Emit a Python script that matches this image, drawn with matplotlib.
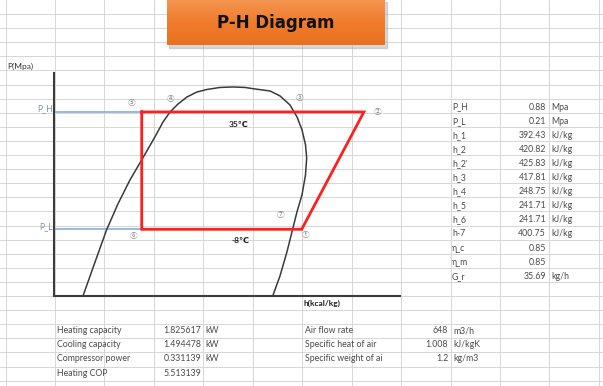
"""
P-H diagram sheet, redrawn with matplotlib
"""
import matplotlib.pyplot as plt
import numpy as np
from matplotlib.patches import Rectangle

plt.rcParams['font.family'] = ['Lato', 'DejaVu Sans', 'Noto Sans CJK SC']

# refrigerant cycle (right-hand table)
param_names = ['P_H', 'P_L', 'h_1', 'h_2', "h_2'", 'h_3', 'h_4', 'h_5', 'h_6', 'h-7', 'η_c', 'η_m', 'G_r']
param_values = ['0.88', '0.21', '392.43', '420.82', '425.83', '417.81', '248.75',
                '241.71', '241.71', '400.75', '0.85', '0.85', '35.69']
param_units = ['Mpa', 'Mpa', 'kJ/kg', 'kJ/kg', 'kJ/kg', 'kJ/kg', 'kJ/kg',
               'kJ/kg', 'kJ/kg', 'kJ/kg', '', '', 'kg/h']

# points as drawn on the chart
p_high = 0.88
p_low = 0.21
h_5 = 241.71
h_6 = 241.71
h_1 = 392.43
h_2_drawn = 451.0   # the chart places point 2 further right than h_2'

# saturation dome
sat_h = [186.4, 196.8, 208.7, 219.4, 230.7, 241.7, 254.2, 261.8, 268.4, 275.9,
         284.4, 293.8, 303.2, 315.5, 327.7, 339.0, 348.4, 362.6, 372.0, 381.4,
         388.0, 392.7, 396.0, 397.1, 396.0, 392.7, 388.0, 384.2, 378.6, 372.0, 365.1]
sat_p = [0.093, 0.136, 0.209, 0.287, 0.384, 0.490, 0.649, 0.779, 0.880, 0.970,
         1.057, 1.123, 1.158, 1.187, 1.194, 1.187, 1.165, 1.137, 1.070, 0.958,
         0.828, 0.707, 0.589, 0.502, 0.408, 0.320, 0.260, 0.214, 0.160, 0.119, 0.093]

# results (bottom tables)
result_names = ['Heating capacity', 'Cooling capacity', 'Compressor power', 'Heating COP']
result_values = ['1.825617', '1.494478', '0.331139', '5.513139']
result_units = ['kW', 'kW', 'kW', '']

air_names = ['Air flow rate', 'Specific heat of air', 'Specific weight of ai']
air_values = ['648', '1.008', '1.2']
air_units = ['m3/h', 'kJ/kgK', 'kg/m3']

W, H = 603, 386
fig = plt.figure(figsize=(W / 100, H / 100), dpi=100)

# spreadsheet background in pixel coordinates
bg = fig.add_axes([0, 0, 1, 1])
bg.set_xlim(0, W)
bg.set_ylim(H, 0)
bg.axis('off')

col_x = 5.5 + 49.45 * np.arange(13)
row_y = 14 + 14.1 * np.arange(27)
for x in col_x:
    bg.axvline(x, color='#d6d6d6', lw=0.7, zorder=0)
for y in row_y:
    bg.axhline(y, color='#d6d6d6', lw=0.7, zorder=0)

# title box with a soft shadow and orange gradient
bg.add_patch(Rectangle((169, 2), 218, 46, color='#a0a0a0', alpha=0.4, zorder=2))
grad = np.linspace(0, 1, 50).reshape(-1, 1)
cmap = plt.matplotlib.colors.LinearSegmentedColormap.from_list('org', ['#f49550', '#ef7c2c', '#e9701f'])
bg.imshow(grad, extent=(167, 385, 45, 0), cmap=cmap, aspect='auto', zorder=3)
bg.set_xlim(0, W)
bg.set_ylim(H, 0)
bg.text(276, 23, 'P-H Diagram', ha='center', va='center', fontsize=12,
        fontweight='bold', family='DejaVu Sans', color='#111111', zorder=4)

text_kw = dict(fontsize=6.3, color='#4a4a4a', va='center')

# right-hand parameter table
for i, (n, v, u) in enumerate(zip(param_names, param_values, param_units)):
    y = row_y[6 + i] + 8.5
    bg.text(452, y, n, ha='left', **text_kw)
    bg.text(546, y, v, ha='right', **text_kw)
    bg.text(551, y, u, ha='left', **text_kw)

# bottom tables
for i, (n, v, u) in enumerate(zip(result_names, result_values, result_units)):
    y = row_y[22 + i] + 6.5
    bg.text(57, y, n, ha='left', **text_kw)
    bg.text(201, y, v, ha='right', **text_kw)
    bg.text(205, y, u, ha='left', **text_kw)
for i, (n, v, u) in enumerate(zip(air_names, air_values, air_units)):
    y = row_y[22 + i] + 6.5
    bg.text(305, y, n, ha='left', **text_kw)
    bg.text(448, y, v, ha='right', **text_kw)
    bg.text(453, y, u, ha='left', **text_kw)

# axis captions and point labels
bg.text(7, 66, 'P(Mpa)', ha='left', va='center', fontsize=6, color='#333333')
bg.text(304, 303, 'h(kcal/kg)', ha='left', va='center', fontsize=6, color='#222222', fontweight='bold')
bg.text(53, 109, 'P_H', ha='right', va='center', fontsize=6.3, color='#8094ad')
bg.text(53, 227, 'P_L', ha='right', va='center', fontsize=6.3, color='#8094ad')
bg.text(239, 124, '35℃', ha='center', va='center', fontsize=6, color='#222222', fontweight='bold')
bg.text(241, 240, '-8℃', ha='center', va='center', fontsize=6, color='#222222', fontweight='bold')

circ = {'①': (306, 235), '②': (378, 112), '③': (300, 98), '④': (171, 99),
        '⑤': (132, 103), '⑥': (134, 236), '⑦': (281, 215)}
for s, (x, y) in circ.items():
    bg.text(x, y, s, ha='center', va='center', fontsize=5.5, color='#8a8a8a',
            family=['Noto Sans CJK SC', 'DejaVu Sans'])

# the diagram itself
ax = fig.add_axes([54 / W, 1 - 296 / H, 346 / W, 223 / H])
ax.patch.set_alpha(0)
ax.set_yscale('log')
ax.set_xlim(159.1, 485.0)
ax.set_ylim(0.093, 1.416)
ax.set_xticks([])
ax.set_yticks([])
ax.set_yticks([], minor=True)
for side in ['top', 'right']:
    ax.spines[side].set_visible(False)
for side in ['left', 'bottom']:
    ax.spines[side].set_color('#3c3c3c')
    ax.spines[side].set_linewidth(1.5)

h_lo = ax.get_xlim()[0]
ax.plot([h_lo, h_5], [p_high, p_high], color='#8fb3df', lw=1.3)
ax.plot([h_lo, h_6], [p_low, p_low], color='#8fb3df', lw=1.3)
ax.plot(sat_h, sat_p, color='#3a3a3a', lw=1.1)
ax.plot([h_5, h_2_drawn, h_1, h_6, h_5], [p_high, p_high, p_low, p_low, p_high],
        color='#ff1f1f', lw=2.0, solid_joinstyle='miter')

plt.savefig('out.png', dpi=100)
plt.close()
